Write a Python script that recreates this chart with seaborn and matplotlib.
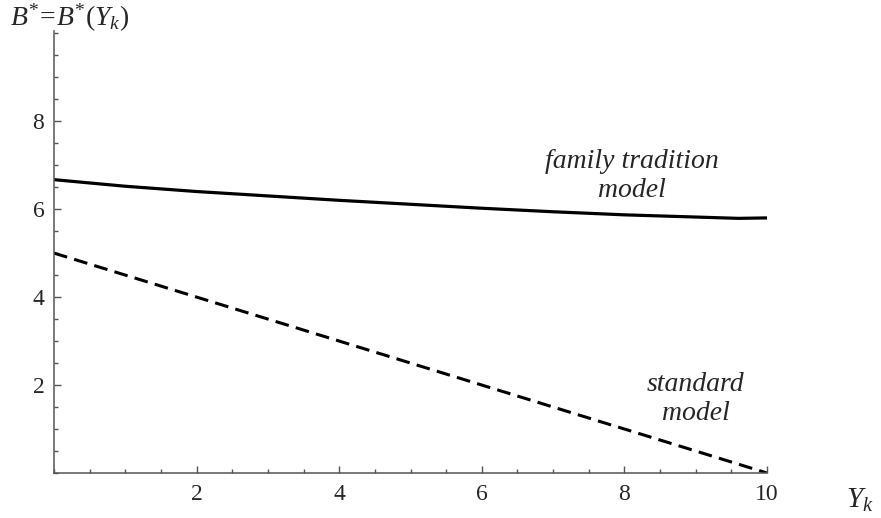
import numpy as np
import pandas as pd
import matplotlib
matplotlib.use("Agg")
import matplotlib.pyplot as plt
import seaborn as sns
from matplotlib.ticker import MultipleLocator

# Data
x_family = [0, 1, 2, 3, 4, 5, 6, 7, 8, 9, 9.6, 10]
y_family = [6.67, 6.52, 6.40, 6.30, 6.20, 6.11, 6.02, 5.94, 5.87, 5.82, 5.79, 5.80]
x_standard = [0, 10]
y_standard = [5.0, 0.0]
xticks = [2, 4, 6, 8, 10]
yticks = [2, 4, 6, 8]

sns.set_style("white")
plt.rcParams['font.family'] = ['Liberation Serif', 'DejaVu Serif']
plt.rcParams['mathtext.fontset'] = 'custom'
plt.rcParams['mathtext.rm'] = 'Liberation Serif'
plt.rcParams['mathtext.it'] = 'Liberation Serif:italic'

fig = plt.figure(figsize=(8.81, 5.18), dpi=100)
ax = fig.add_axes([54/881, 1-473/518, (767-54)/881, (473-31)/518])

df_f = pd.DataFrame({"x": x_family, "y": y_family})
df_s = pd.DataFrame({"x": x_standard, "y": y_standard})
sns.lineplot(data=df_f, x="x", y="y", ax=ax, color="black", linewidth=2.3)
sns.lineplot(data=df_s, x="x", y="y", ax=ax, color="black", linewidth=2.2,
             dashes=False, linestyle=(0, (4.5, 2.4)))

ax.set_xlim(0, 10)
ax.set_ylim(0, 10.05)
ax.set_xlabel("")
ax.set_ylabel("")
for s in ["top", "right"]:
    ax.spines[s].set_visible(False)
for s in ["left", "bottom"]:
    ax.spines[s].set_color("#555555")
    ax.spines[s].set_linewidth(1.1)

ax.set_xticks(xticks)
ax.set_xticklabels([str(t) for t in xticks])
ax.set_yticks(yticks)
ax.set_yticklabels([str(t) for t in yticks])
ax.xaxis.set_minor_locator(MultipleLocator(0.5))
ax.yaxis.set_minor_locator(MultipleLocator(0.5))
ax.tick_params(which="major", direction="in", length=5, width=1, color="#555555",
               labelsize=17, bottom=True, left=True)
ax.tick_params(which="minor", direction="in", length=3, width=1, color="#555555",
               bottom=True, left=True)
ax.tick_params(axis="x", which="major", pad=8)
ax.tick_params(axis="y", which="major", pad=7)
ax.patch.set_alpha(0)

fig.text(860/881, 1-500/518, r"$Y_k$", fontsize=21, ha="center", va="center")
fig.text(10/881, 1-18/518, r"$B^{*}\!=\!B^{*}(Y_k)$", fontsize=20, ha="left", va="center")

ax.text(8.1, 6.75, "family tradition\nmodel", fontsize=20, style="italic",
        ha="center", va="center", linespacing=1.2)
ax.text(9.0, 1.68, "standard\nmodel", fontsize=20, style="italic",
        ha="center", va="center", linespacing=1.2)

fig.savefig("out.png", dpi=100)
